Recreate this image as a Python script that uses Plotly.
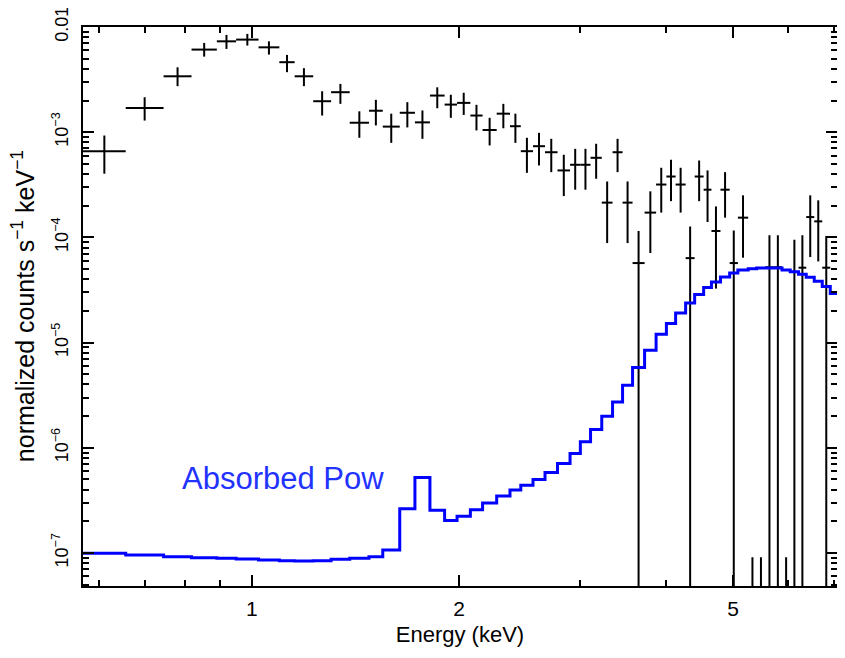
import math
import plotly.graph_objects as go

# channel bin edges in keV
edges = [0.5685, 0.6558, 0.7444, 0.8173, 0.8895, 0.9488, 1.0227, 1.0963, 1.1539,
         1.2278, 1.3035, 1.3873, 1.4796, 1.5495, 1.6400, 1.7255, 1.8143, 1.9055,
         1.9866, 2.0770, 2.1636, 2.2681, 2.3714, 2.4587, 2.5612, 2.6661, 2.7800,
         2.8990, 3.0006, 3.1047, 3.2234, 3.3419, 3.4557, 3.5733, 3.7199, 3.8658,
         4.0014, 4.1267, 4.2672, 4.3978, 4.5322, 4.6522, 4.7946, 4.9444, 5.0820,
         5.2603, 5.4122, 5.5684, 5.7292, 5.8906, 6.0546, 6.2251, 6.3877, 6.5612,
         6.7395, 6.9226]

# data: rate and the lower / upper end of each error bar (0 = below zero)
rate = [6.6e-4, 1.70e-3, 3.40e-3, 6.10e-3, 7.31e-3, 7.59e-3, 6.41e-3, 4.63e-3, 3.40e-3, 1.97e-3,
        2.40e-3, 1.23e-3, 1.60e-3, 1.13e-3, 1.53e-3, 1.24e-3, 2.23e-3, 1.83e-3, 1.90e-3, 1.44e-3,
        1.05e-3, 1.50e-3, 1.14e-3, 6.60e-4, 7.36e-4, 6.45e-4, 4.33e-4, 4.90e-4, 4.90e-4, 5.71e-4,
        2.14e-4, 6.45e-4, 2.14e-4, 5.70e-5, 1.72e-4, 3.18e-4, 3.79e-4, 3.18e-4, 6.35e-5, 3.79e-4,
        2.84e-4, 1.15e-4, 2.84e-4, 5.70e-5, 1.54e-4, 0, 0, 5.2e-5, 5.2e-5, 0,
        4.7e-5, 5.15e-5, 1.56e-4, 1.42e-4, 5.15e-5]
rate_lo = [4.03e-4, 1.29e-3, 2.74e-3, 5.23e-3, 6.19e-3, 6.66e-3, 5.47e-3, 3.72e-3, 2.74e-3, 1.44e-3,
           1.86e-3, 8.85e-4, 1.16e-3, 7.92e-4, 1.11e-3, 8.65e-4, 1.69e-3, 1.37e-3, 1.46e-3, 1.04e-3,
           7.48e-4, 1.09e-3, 7.92e-4, 4.11e-4, 4.83e-4, 4.17e-4, 2.47e-4, 2.84e-4, 2.84e-4, 3.61e-4,
           8.83e-5, 4.17e-4, 8.83e-5, 0, 7.1e-5, 1.72e-4, 2.21e-4, 1.72e-4, 0, 2.21e-4,
           1.40e-4, 3.26e-5, 1.54e-4, 0, 6.41e-5, 0, 0, 0, 0, 0,
           0, 0, 6.50e-5, 5.91e-5, 0]
rate_hi = [9.3e-4, 2.15e-3, 4.14e-3, 7.06e-3, 8.41e-3, 8.6e-3, 7.31e-3, 5.43e-3, 4.06e-3, 2.45e-3,
           2.88e-3, 1.58e-3, 2.03e-3, 1.50e-3, 1.93e-3, 1.61e-3, 2.67e-3, 2.27e-3, 2.37e-3, 1.82e-3,
           1.37e-3, 1.86e-3, 1.50e-3, 8.85e-4, 9.87e-4, 8.65e-4, 6.10e-4, 6.95e-4, 6.95e-4, 7.76e-4,
           3.40e-4, 8.65e-4, 3.40e-4, 1.15e-4, 2.74e-4, 4.59e-4, 5.47e-4, 4.59e-4, 1.27e-4, 5.38e-4,
           4.33e-4, 1.97e-4, 4.17e-4, 1.16e-4, 2.51e-4, 9.1e-8, 9.1e-8, 1.045e-4, 1.045e-4, 9.1e-8,
           9.5e-5, 1.045e-4, 2.51e-4, 2.25e-4, 1.03e-4]

# folded model, one value per channel (+ one channel past the right edge)
model_edges = edges + [7.12]
model = [9.91e-8, 9.55e-8, 9.20e-8, 9.00e-8, 8.89e-8, 8.75e-8, 8.56e-8, 8.43e-8, 8.38e-8, 8.43e-8,
         8.69e-8, 8.89e-8, 9.20e-8, 1.065e-7, 2.63e-7, 5.22e-7, 2.54e-7, 2.04e-7, 2.23e-7, 2.57e-7,
         2.98e-7, 3.47e-7, 3.96e-7, 4.41e-7, 5.00e-7, 5.83e-7, 7.09e-7, 8.83e-7, 1.138e-6, 1.492e-6,
         1.995e-6, 2.73e-6, 3.93e-6, 5.79e-6, 8.45e-6, 1.199e-5, 1.515e-5, 1.91e-5, 2.38e-5, 2.86e-5,
         3.33e-5, 3.76e-5, 4.20e-5, 4.58e-5, 4.91e-5, 5.02e-5, 5.11e-5, 5.13e-5, 5.11e-5, 4.91e-5,
         4.70e-5, 4.45e-5, 4.17e-5, 3.82e-5, 3.42e-5, 2.92e-5]

X_RANGE = (0.5685, 7.08)
Y_RANGE = (4.85e-8, 1e-2)
FLOOR = 1e-12  # stand-in for error bars that run below zero

# crosses: vertical error bar + horizontal bin width, as one broken line
xs, ys = [], []
for i, r in enumerate(rate):
    e0, e1 = edges[i], edges[i + 1]
    ec = math.sqrt(e0 * e1)
    lo = rate_lo[i] if rate_lo[i] > 0 else FLOOR
    xs += [ec, ec, None]
    ys += [lo, rate_hi[i], None]
    if r > 0:
        xs += [e0, e1, None]
        ys += [r, r, None]

fig = go.Figure()
fig.add_trace(go.Scatter(x=xs, y=ys, mode='lines',
                         line=dict(color='black', width=2),
                         hoverinfo='skip'))
fig.add_trace(go.Scatter(x=model_edges, y=model + [model[-1]], mode='lines',
                         line=dict(color='#0000ff', width=3, shape='hv'),
                         name='Absorbed Pow'))

fig.add_annotation(x=math.log10(0.786), y=math.log10(5.14e-7),
                   text='Absorbed Pow', showarrow=False,
                   xanchor='left', yanchor='middle',
                   font=dict(size=31, color='#2233ff'))

# y title as a rotated annotation so it can sit close to the left edge
fig.add_annotation(xref='paper', yref='paper', x=-0.080, y=0.5,
                   text='normalized counts s<sup>−1</sup> keV<sup>−1</sup>',
                   showarrow=False, textangle=-90,
                   xanchor='center', yanchor='middle',
                   font=dict(size=25, color='black'))

axis_style = dict(type='log', showline=True, linewidth=2, linecolor='black',
                  mirror='ticks', ticks='inside', ticklen=11, tickwidth=2,
                  tickcolor='black', showgrid=False, zeroline=False,
                  automargin=False, ticklabeloverflow='allow')

fig.update_xaxes(**axis_style,
                 range=[math.log10(X_RANGE[0]), math.log10(X_RANGE[1])],
                 tickvals=[1, 2, 5], ticktext=['1', '2', '5'],
                 tickfont=dict(size=21), ticklabelstandoff=3,
                 minor=dict(tickvals=[0.6, 0.7, 0.8, 0.9, 3, 4, 6, 7],
                            ticks='inside', ticklen=6, tickwidth=2,
                            tickcolor='black', showgrid=False),
                 title=dict(text='Energy (keV)', font=dict(size=22), standoff=7))

ydec = [1e-7, 1e-6, 1e-5, 1e-4, 1e-3, 1e-2]
yminor = [m * d for d in [1e-8, 1e-7, 1e-6, 1e-5, 1e-4, 1e-3] for m in range(2, 10)]
fig.update_yaxes(**axis_style,
                 range=[math.log10(Y_RANGE[0]), math.log10(Y_RANGE[1]) + 1e-4],
                 tickvals=ydec,
                 ticktext=['10<sup>−7</sup>', '10<sup>−6</sup>', '10<sup>−5</sup>',
                           '10<sup>−4</sup>', '10<sup>−3</sup>', '0.01'],
                 tickfont=dict(size=18), tickangle=-90, ticklabelstandoff=6,
                 minor=dict(tickvals=yminor, ticks='inside', ticklen=6, tickwidth=2,
                            tickcolor='black', showgrid=False))

# the page adds an 8px body margin, so the margins are trimmed to match
fig.update_layout(width=845, height=658,
                  margin=dict(l=75, r=16, t=19, b=80),
                  plot_bgcolor='white', paper_bgcolor='white',
                  showlegend=False,
                  font=dict(family='Liberation Sans, Arial, sans-serif',
                            size=20, color='black'))

fig.write_html("out.html")
